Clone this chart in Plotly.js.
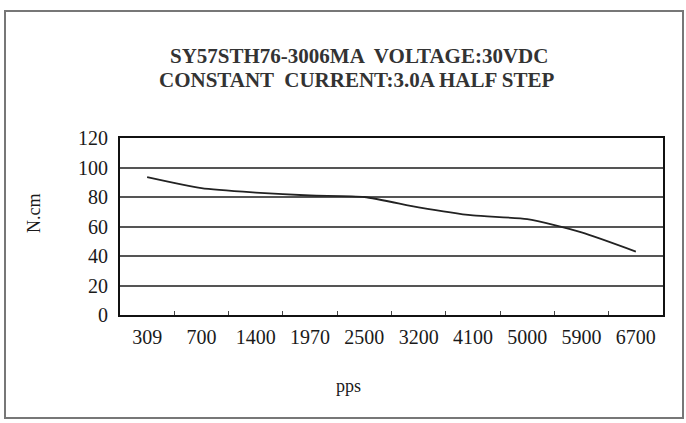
<!DOCTYPE html>
<html>
<head>
<meta charset="utf-8">
<script src="https://cdn.plot.ly/plotly-3.0.1.min.js"></script>
<style>
html,body{margin:0;padding:0;background:#fff;}
#wrap{position:relative;width:686px;height:423px;}
#chart{position:absolute;left:0;top:0;width:686px;height:423px;}
#frame{position:absolute;left:4px;top:10px;width:676px;height:405px;border:2px solid #777;pointer-events:none;}
</style>
</head>
<body>
<div id="wrap"><div id="chart"></div><div id="frame"></div></div>
<script>
const categories = ["309","700","1400","1970","2500","3200","4100","5000","5900","6700"];
const torque = [93.5, 86, 83, 81, 80, 73, 67.5, 65, 56, 43];
const yTicks = [0, 20, 40, 60, 80, 100, 120];
const titleLines = ["SY57STH76-3006MA  VOLTAGE:30VDC", "CONSTANT  CURRENT:3.0A HALF STEP"];
const xTitle = "pps";
const yTitle = "N.cm";

const idx = categories.map((c, i) => i);
const bounds = categories.slice(1).map((c, i) => i + 0.5);

const serif = "Liberation Serif, Times New Roman, serif";
const ink = '#1a1a1a';

// plot area in pixels: left 120, right 663, top 138, bottom 315
const L = 120, R = 663, T = 138, B = 315;
const px = x => (x - L) / (R - L);
const py = y => (B - y) / (B - T);

const annotations = [
  {text: '<b>' + titleLines[0] + '</b>', x: px(359), y: py(56), xref: 'paper', yref: 'paper', showarrow: false,
   xanchor: 'center', yanchor: 'middle', font: {family: serif, size: 21, color: '#333'}},
  {text: '<b>' + titleLines[1] + '</b>', x: px(357), y: py(80), xref: 'paper', yref: 'paper', showarrow: false,
   xanchor: 'center', yanchor: 'middle', font: {family: serif, size: 21, color: '#333'}},
  {text: xTitle, x: px(348), y: py(386), xref: 'paper', yref: 'paper', showarrow: false,
   xanchor: 'center', yanchor: 'middle', font: {family: serif, size: 18, color: ink}},
  {text: yTitle, x: px(34), y: py(213), xref: 'paper', yref: 'paper', showarrow: false, textangle: -90,
   xanchor: 'center', yanchor: 'middle', font: {family: serif, size: 18, color: ink}}
];

Plotly.newPlot('chart', [{
  x: idx,
  y: torque,
  type: 'scatter',
  mode: 'lines',
  line: {color: '#222', width: 1.8, shape: 'spline', smoothing: 0.6},
  hoverinfo: 'skip'
}], {
  width: 686, height: 423,
  margin: {l: L, r: 686 - R, t: T, b: 423 - B},
  paper_bgcolor: 'rgba(0,0,0,0)',
  plot_bgcolor: '#fff',
  showlegend: false,
  annotations: annotations,
  xaxis: {
    range: [-0.5, 9.5],
    tickvals: idx,
    ticktext: categories,
    ticks: '',
    showgrid: false,
    zeroline: false,
    showline: true, linecolor: '#111', linewidth: 2, mirror: true,
    tickfont: {family: serif, size: 20, color: ink},
    ticklabelstandoff: 3,
    minor: {tickvals: bounds, ticks: 'inside', ticklen: 4, tickcolor: '#444', tickwidth: 1, showgrid: false}
  },
  yaxis: {
    range: [0, 120],
    tickvals: yTicks,
    ticks: '',
    showgrid: true, gridcolor: '#555', gridwidth: 2,
    zeroline: false,
    showline: true, linecolor: '#111', linewidth: 2, mirror: true,
    tickfont: {family: serif, size: 20, color: ink},
    ticklabelstandoff: 6
  }
}, {displayModeBar: false, staticPlot: true});
</script>
</body>
</html>
